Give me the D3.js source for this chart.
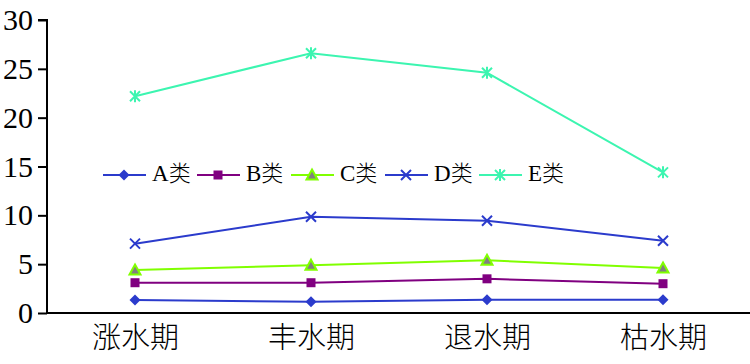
<!DOCTYPE html>
<html>
<head>
<meta charset="utf-8">
<script src="https://cdn.jsdelivr.net/npm/d3@7"></script>
<style>
  body { margin: 0; background: #fff; }
  text { font-family: "Liberation Serif", "Noto Sans CJK SC", serif; }
</style>
</head>
<body>
<script>
var width = 750;
var height = 364;

var periods = ['涨水期', '丰水期', '退水期', '枯水期'];
var seriesNames = ['A类', 'B类', 'C类', 'D类', 'E类'];
var aValues = [1.33, 1.16, 1.36, 1.36];
var bValues = [3.1, 3.1, 3.5, 3.0];
var cValues = [4.4, 4.9, 5.4, 4.6];
var dValues = [7.1, 9.85, 9.45, 7.4];
var eValues = [22.2, 26.6, 24.6, 14.4];
var yTicks = [0, 5, 10, 15, 20, 25, 30];

var colors = ['#2b3bcc', '#800080', '#80ff00', '#2b3bcc', '#3cf5b0'];
var symbols = ['diamond', 'square', 'triangle', 'cross', 'asterisk'];

var series = [aValues, bValues, cValues, dValues, eValues].map(function(v, i) {
  return { name: seriesNames[i], values: v, color: colors[i], symbol: symbols[i] };
});

var svg = d3.select('body')
  .append('svg')
  .attr('width', width)
  .attr('height', height);

var x = d3.scalePoint()
  .domain(periods)
  .range([47, 751])
  .padding(0.5);

var y = d3.scaleLinear()
  .domain([0, 30])
  .range([313, 20]);

// y axis
var yAxis = svg.append('g')
  .attr('transform', 'translate(47,0)')
  .call(d3.axisLeft(y).tickValues(yTicks).tickSize(9).tickPadding(5));
yAxis.select('.domain').attr('stroke', '#000').attr('stroke-width', 2)
  .attr('d', 'M-9,' + y(30) + 'H0V' + y(0));
yAxis.selectAll('.tick line').attr('stroke', '#000').attr('stroke-width', 2);
yAxis.selectAll('.tick text')
  .attr('fill', '#000')
  .style('font-size', '30px')
  .style('font-family', '"Liberation Serif", serif');

// x axis, no tick marks
var xAxis = svg.append('g')
  .attr('transform', 'translate(0,' + y(0) + ')')
  .call(d3.axisBottom(x).tickSize(0).tickPadding(14));
xAxis.select('.domain').attr('stroke', '#000').attr('stroke-width', 2)
  .attr('d', 'M47,0H751');
xAxis.selectAll('.tick text')
  .attr('fill', '#000')
  .style('font-size', '29px')
  .style('font-family', '"Noto Sans CJK SC", sans-serif')
  .style('font-weight', '300');

function drawMarker(g, type, color) {
  if (type === 'diamond') {
    g.append('path').attr('d', 'M0,-5.5L5.5,0L0,5.5L-5.5,0Z').attr('fill', color);
  } else if (type === 'square') {
    g.append('rect').attr('x', -4.5).attr('y', -4.5).attr('width', 9).attr('height', 9).attr('fill', color);
  } else if (type === 'triangle') {
    g.append('path').attr('d', 'M0,-5.5L5.5,4.5L-5.5,4.5Z')
      .attr('fill', '#808080').attr('stroke', color).attr('stroke-width', 2);
  } else if (type === 'cross') {
    g.append('path').attr('d', 'M-5,-5L5,5M-5,5L5,-5').attr('stroke', color).attr('stroke-width', 2);
  } else {
    g.append('path').attr('d', 'M-5,-5L5,5M-5,5L5,-5M0,-6V6')
      .attr('stroke', color).attr('stroke-width', 2);
  }
}

var line = d3.line()
  .x(function(d, i) { return x(periods[i]); })
  .y(function(d) { return y(d); });

var lines = svg.append('g');
series.forEach(function(s) {
  lines.append('path')
    .attr('d', line(s.values))
    .attr('fill', 'none')
    .attr('stroke', s.color)
    .attr('stroke-width', 2);
  s.values.forEach(function(v, i) {
    var g = lines.append('g')
      .attr('transform', 'translate(' + x(periods[i]) + ',' + y(v) + ')');
    drawMarker(g, s.symbol, s.color);
  });
});

// legend: latin letter in serif, the 类 in light CJK
var legend = svg.append('g').attr('transform', 'translate(103,175)');
series.forEach(function(s, i) {
  var g = legend.append('g').attr('transform', 'translate(' + (i * 94) + ',0)');
  g.append('line').attr('x1', 0).attr('x2', 43).attr('y1', 0).attr('y2', 0)
    .attr('stroke', s.color).attr('stroke-width', 2);
  var m = g.append('g').attr('transform', 'translate(21,0)');
  drawMarker(m, s.symbol, s.color);
  var t = g.append('text')
    .attr('x', 49)
    .attr('y', 0)
    .attr('dy', '0.36em')
    .attr('fill', '#000');
  t.append('tspan')
    .style('font-family', '"Liberation Serif", serif')
    .style('font-size', '23px')
    .text(s.name.slice(0, 1));
  t.append('tspan')
    .style('font-family', '"Noto Sans CJK SC", sans-serif')
    .style('font-weight', '300')
    .style('font-size', '22px')
    .text(s.name.slice(1));
});
</script>
</body>
</html>
